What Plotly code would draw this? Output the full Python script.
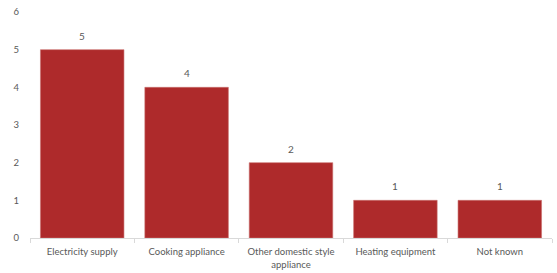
import plotly.graph_objects as go

categories = ["Electricity supply", "Cooking appliance", "Other domestic style<br>appliance",
              "Heating equipment", "Not known"]
values = [5, 4, 2, 1, 1]
y_ticks = [0, 1, 2, 3, 4, 5, 6]

bar_color = "#AE2A2B"
text_color = "#595959"
font_family = "Lato, Liberation Sans, sans-serif"

fig = go.Figure()
fig.add_trace(go.Bar(
    x=categories, y=values,
    marker=dict(color=bar_color, line=dict(color="#C9706F", width=0.6)),
    hoverinfo="skip",
))

for c, v in zip(categories, values):
    fig.add_annotation(x=c, y=v, text=str(v), showarrow=False,
                       yanchor="middle", yshift=14,
                       font=dict(size=10, color=text_color, family=font_family))

fig.update_layout(
    width=557, height=273,
    margin=dict(l=30, r=5, t=12, b=35),
    plot_bgcolor="white", paper_bgcolor="white",
    bargap=0.2,
    showlegend=False,
    font=dict(family=font_family, size=10, color=text_color),
    xaxis=dict(
        type="category",
        automargin=False,
        showline=True, linecolor="#D9D9D9", linewidth=1,
        ticks="outside", tickson="boundaries", ticklen=4, tickcolor="#D9D9D9",
        showgrid=False,
        ticklabelstandoff=5,
        tickfont=dict(size=9.5, color=text_color),
    ),
    yaxis=dict(
        range=[0, 6], tickvals=y_ticks,
        automargin=False,
        showgrid=False, showline=False, zeroline=False,
        ticklabelstandoff=10,
        tickfont=dict(size=9.5, color=text_color),
    ),
)

fig.write_html("out.html",
               config={"displayModeBar": False},
               post_script="document.body.style.margin='0';document.body.style.overflow='hidden';")
